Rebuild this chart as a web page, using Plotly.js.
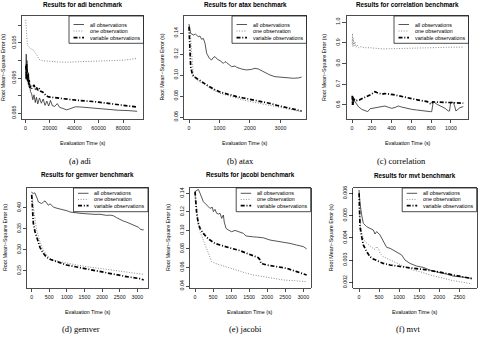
<!DOCTYPE html>
<html>
<head>
<meta charset="utf-8">
<script src="https://cdn.plot.ly/plotly-3.0.1.min.js"></script>
<style>
  html, body { margin: 0; padding: 0; background: #fff; }
  #chart { width: 481px; height: 337px; }
</style>
</head>
<body>
<div id="chart"></div>
<script>
// ---- series / labels ----
const seriesNames = ['all observations', 'one observation', 'variable observations'];
const benchmarks = ['adi', 'atax', 'correlation', 'gemver', 'jacobi', 'mvt'];
const captions = ['(a) adi', '(b) atax', '(c) correlation', '(d) gemver', '(e) jacobi', '(f) mvt'];
const xTitle = 'Evaluation Time (s)';
const yTitle = 'Root Mean\u2212Square Error (s)';

// ---- adi ----
const adiAllX = [300, 600, 900, 1200, 1500, 1800, 2100, 2500, 2900, 3400, 4000, 5000, 6000, 7000, 8000, 9000, 10000, 11500, 13000, 14500, 16000, 17500, 19000, 20500, 22000, 24000, 26000, 28000, 30000, 32000, 33800, 35500, 38000, 41000, 46000, 52000, 60000, 68000, 76000, 84000, 91500];
const adiAllY = [0.0960, 0.1018, 0.0975, 0.1000, 0.0950, 0.0985, 0.0940, 0.0965, 0.0925, 0.0935, 0.0912, 0.0905, 0.0888, 0.0902, 0.0880, 0.0895, 0.0876, 0.0893, 0.0878, 0.0890, 0.0872, 0.0884, 0.0870, 0.0886, 0.0871, 0.0869, 0.0877, 0.0866, 0.0864, 0.0862, 0.0859, 0.0861, 0.0865, 0.0868, 0.0867, 0.0865, 0.0862, 0.0860, 0.0858, 0.0857, 0.0855];
const adiOneX = [200, 800, 1500, 3700, 6400, 9200, 11300, 14600, 20000, 26000, 33000, 40000, 47000, 54000, 61000, 66000, 71000, 76000, 81000, 85000, 88500, 91500];
const adiOneY = [0.1116, 0.1060, 0.1044, 0.1035, 0.1030, 0.1016, 0.1003, 0.0999, 0.0997, 0.0996, 0.0995, 0.0996, 0.0996, 0.0997, 0.0997, 0.0998, 0.0999, 0.1000, 0.1001, 0.1003, 0.1005, 0.1006];
const adiVarX = [300, 600, 900, 1200, 1500, 1800, 2200, 2600, 3000, 3500, 4200, 5000, 6000, 7000, 8000, 9000, 10000, 11000, 12500, 14000, 15500, 17000, 19000, 21000, 24000, 28000, 33000, 38000, 44000, 50000, 55000, 60000, 65000, 70000, 75000, 83000, 91500];
const adiVarY = [0.0985, 0.0945, 0.0990, 0.0955, 0.0975, 0.0940, 0.0960, 0.0930, 0.0945, 0.0922, 0.0928, 0.0920, 0.0925, 0.0930, 0.0918, 0.0924, 0.0915, 0.0921, 0.0912, 0.0910, 0.0905, 0.0899, 0.0896, 0.0895, 0.0893, 0.0891, 0.0889, 0.0888, 0.0886, 0.0885, 0.0883, 0.0881, 0.0879, 0.0877, 0.0875, 0.0872, 0.0867];

// ---- atax ----
const ataxAllX = [0, 55, 142, 208, 306, 361, 415, 470, 525, 579, 667, 743, 798, 853, 929, 1017, 1126, 1181, 1235, 1290, 1400, 1509, 1564, 1728, 1892, 2055, 2165, 2274, 2438, 2657, 2821, 2985, 3204, 3422, 3586, 3694];
const ataxAllY = [0.1486, 0.1397, 0.1381, 0.1390, 0.1365, 0.1371, 0.1340, 0.1349, 0.1302, 0.1207, 0.1159, 0.1143, 0.1167, 0.1175, 0.1150, 0.1137, 0.1111, 0.1127, 0.1118, 0.1105, 0.1079, 0.1086, 0.1073, 0.1057, 0.1048, 0.1054, 0.1064, 0.1057, 0.1032, 0.1000, 0.0984, 0.0978, 0.0972, 0.0969, 0.0972, 0.0980];
const ataxOneX = [0, 33, 66, 109, 142, 200, 252, 350, 470, 580, 689, 850, 1017, 1235, 1500, 1782, 2050, 2329, 2600, 2876, 3150, 3422, 3694];
const ataxOneY = [0.1476, 0.1440, 0.1302, 0.1079, 0.1000, 0.0975, 0.0953, 0.0935, 0.0921, 0.0898, 0.0873, 0.0850, 0.0826, 0.0808, 0.0785, 0.0762, 0.0745, 0.0730, 0.0714, 0.0698, 0.0682, 0.0667, 0.0651];
const ataxVarX = [0, 33, 55, 109, 142, 197, 306, 415, 550, 689, 850, 1017, 1235, 1400, 1564, 1782, 2050, 2329, 2600, 2876, 3150, 3422, 3694];
const ataxVarY = [0.1460, 0.1270, 0.1079, 0.1010, 0.0991, 0.0978, 0.0953, 0.0937, 0.0910, 0.0883, 0.0860, 0.0838, 0.0819, 0.0806, 0.0794, 0.0781, 0.0767, 0.0753, 0.0733, 0.0712, 0.0694, 0.0676, 0.0657];

// ---- correlation ----
const corrAllX = [3, 8, 13, 20, 30, 45, 64, 98, 131, 158, 182, 215, 249, 283, 333, 367, 401, 434, 468, 502, 552, 603, 653, 704, 754, 790, 805, 821, 860, 900, 940, 973, 985, 997, 1023, 1040, 1050, 1091, 1124];
const corrAllY = [0.615, 0.640, 0.600, 0.625, 0.616, 0.605, 0.592, 0.579, 0.571, 0.568, 0.582, 0.585, 0.587, 0.590, 0.595, 0.589, 0.584, 0.588, 0.595, 0.590, 0.584, 0.579, 0.576, 0.572, 0.570, 0.568, 0.568, 0.616, 0.603, 0.595, 0.584, 0.571, 0.571, 0.613, 0.613, 0.590, 0.571, 0.587, 0.592];
const corrOneX = [2, 5, 9, 13, 20, 30, 40, 54, 67, 81, 108, 131, 182, 249, 316, 384, 485, 620, 788, 956, 1050, 1124];
const corrOneY = [0.897, 0.945, 0.881, 0.921, 0.884, 0.905, 0.878, 0.889, 0.876, 0.882, 0.878, 0.876, 0.876, 0.873, 0.870, 0.871, 0.873, 0.875, 0.876, 0.878, 0.878, 0.879];
const corrVarX = [2, 5, 8, 12, 18, 25, 35, 50, 74, 98, 131, 148, 180, 199, 232, 250, 266, 300, 330, 350, 385, 417, 450, 485, 520, 552, 590, 620, 660, 687, 720, 760, 788, 805, 815, 870, 910, 956, 990, 1023, 1060, 1091, 1124];
const corrVarY = [0.645, 0.600, 0.640, 0.610, 0.630, 0.625, 0.620, 0.622, 0.624, 0.630, 0.636, 0.640, 0.648, 0.653, 0.664, 0.660, 0.657, 0.652, 0.655, 0.653, 0.652, 0.650, 0.646, 0.643, 0.638, 0.635, 0.631, 0.629, 0.625, 0.622, 0.620, 0.616, 0.607, 0.605, 0.615, 0.614, 0.613, 0.612, 0.610, 0.611, 0.609, 0.608, 0.609];

// ---- gemver ----
const gemverAllX = [0, 47, 90, 123, 160, 189, 240, 284, 330, 379, 425, 473, 520, 570, 615, 690, 757, 850, 946, 1020, 1088, 1180, 1277, 1400, 1514, 1656, 1798, 1940, 2050, 2130, 2230, 2319, 2410, 2508, 2600, 2697, 2800, 2887, 2960, 3029, 3100, 3180];
const gemverAllY = [0.4371, 0.4347, 0.4360, 0.4306, 0.4220, 0.4145, 0.4120, 0.4106, 0.4140, 0.4169, 0.4120, 0.4065, 0.4100, 0.4060, 0.4024, 0.4000, 0.3985, 0.3975, 0.3961, 0.3930, 0.3904, 0.3890, 0.3880, 0.3872, 0.3865, 0.3848, 0.3848, 0.3850, 0.3835, 0.3824, 0.3830, 0.3816, 0.3770, 0.3720, 0.3690, 0.3663, 0.3620, 0.3583, 0.3560, 0.3543, 0.3487, 0.3479];
const gemverOneX = [0, 47, 95, 142, 236, 331, 426, 520, 615, 805, 994, 1278, 1562, 1940, 2319, 2698, 3000, 3180];
const gemverOneY = [0.4388, 0.4031, 0.3714, 0.3476, 0.3198, 0.3000, 0.2881, 0.2802, 0.2762, 0.2722, 0.2683, 0.2643, 0.2603, 0.2564, 0.2524, 0.2484, 0.2450, 0.2420];
const gemverVarX = [0, 19, 47, 95, 161, 236, 331, 426, 520, 710, 994, 1467, 1940, 2319, 2698, 3076, 3180];
const gemverVarY = [0.4310, 0.3952, 0.3635, 0.3436, 0.3238, 0.3064, 0.2921, 0.2826, 0.2778, 0.2722, 0.2643, 0.2564, 0.2484, 0.2429, 0.2365, 0.2317, 0.2286];

// ---- jacobi ----
const jacobiAllX = [0, 55, 92, 140, 185, 231, 323, 416, 480, 508, 554, 600, 650, 693, 739, 770, 785, 810, 859, 923, 1016, 1108, 1180, 1247, 1339, 1413, 1524, 1620, 1708, 1800, 1893, 2078, 2262, 2447, 2632, 2816, 3001, 3093];
const jacobiAllY = [0.1418, 0.1436, 0.1443, 0.1400, 0.1346, 0.1310, 0.1274, 0.1238, 0.1250, 0.1202, 0.1227, 0.1184, 0.1177, 0.1185, 0.1130, 0.1160, 0.1166, 0.1090, 0.1022, 0.1004, 0.0986, 0.1000, 0.0990, 0.0986, 0.0968, 0.0940, 0.0932, 0.0930, 0.0928, 0.0925, 0.0920, 0.0896, 0.0886, 0.0878, 0.0860, 0.0842, 0.0825, 0.0800];
const jacobiOneX = [0, 28, 46, 92, 139, 231, 323, 397, 462, 554, 693, 877, 1154, 1431, 1616, 1893, 2170, 2447, 2724, 3093];
const jacobiOneY = [0.1400, 0.1292, 0.1220, 0.1058, 0.0986, 0.0896, 0.0806, 0.0717, 0.0663, 0.0645, 0.0627, 0.0609, 0.0573, 0.0537, 0.0519, 0.0501, 0.0483, 0.0465, 0.0458, 0.0447];
const jacobiVarX = [0, 28, 46, 92, 139, 231, 323, 416, 554, 693, 877, 1062, 1247, 1431, 1616, 1754, 1800, 1828, 1893, 1985, 2262, 2539, 2816, 3093];
const jacobiVarY = [0.1418, 0.1292, 0.1184, 0.1076, 0.1022, 0.0968, 0.0925, 0.0896, 0.0860, 0.0842, 0.0824, 0.0806, 0.0781, 0.0753, 0.0724, 0.0706, 0.0681, 0.0645, 0.0637, 0.0627, 0.0609, 0.0591, 0.0555, 0.0519];

// ---- mvt ----
const mvtAllX = [0, 8, 25, 66, 108, 191, 274, 357, 399, 440, 523, 606, 689, 772, 855, 980, 1063, 1146, 1271, 1437, 1603, 1769, 1894, 2018, 2185, 2351, 2517, 2683, 2808];
const mvtAllY = [0.00615, 0.00585, 0.00555, 0.00503, 0.00465, 0.00450, 0.00443, 0.00435, 0.00417, 0.00428, 0.00413, 0.00383, 0.00357, 0.00353, 0.00345, 0.00330, 0.00323, 0.00300, 0.00285, 0.00273, 0.00267, 0.00255, 0.00248, 0.00243, 0.00237, 0.00228, 0.00225, 0.00220, 0.00218];
const mvtOneX = [0, 8, 42, 91, 150, 233, 316, 399, 440, 482, 523, 606, 689, 855, 1105, 1354, 1520, 1769, 2018, 2185, 2351, 2517, 2808];
const mvtOneY = [0.00607, 0.00525, 0.00450, 0.00405, 0.00383, 0.00368, 0.00357, 0.00348, 0.00360, 0.00353, 0.00330, 0.00315, 0.00308, 0.00293, 0.00273, 0.00255, 0.00248, 0.00233, 0.00222, 0.00213, 0.00207, 0.00203, 0.00193];
const mvtVarX = [3, 8, 25, 66, 108, 191, 274, 357, 482, 606, 772, 938, 1105, 1354, 1603, 1852, 2101, 2351, 2600, 2808];
const mvtVarY = [0.00600, 0.00510, 0.00450, 0.00405, 0.00368, 0.00338, 0.00315, 0.00305, 0.00296, 0.00285, 0.00278, 0.00273, 0.00270, 0.00263, 0.00258, 0.00252, 0.00243, 0.00233, 0.00225, 0.00217];

// ---- tick values and labels ----
const adiXTicks = [0, 20000, 40000, 60000, 80000];
const adiYTicks = [0.085, 0.090, 0.095, 0.100, 0.105, 0.110];
const adiYLabels = ['0.085', '', '0.095', '', '0.105', ''];
const ataxXTicks = [0, 1000, 2000, 3000];
const ataxYTicks = [0.06, 0.08, 0.10, 0.12, 0.14];
const ataxYLabels = ['0.06', '0.08', '0.10', '0.12', '0.14'];
const corrXTicks = [0, 200, 400, 600, 800, 1000];
const corrYTicks = [0.6, 0.7, 0.8, 0.9, 1.0];
const corrYLabels = ['0.6', '0.7', '0.8', '0.9', '1.0'];
const gemverXTicks = [0, 500, 1000, 1500, 2000, 2500, 3000];
const gemverYTicks = [0.25, 0.30, 0.35, 0.40];
const gemverYLabels = ['0.25', '0.30', '0.35', '0.40'];
const jacobiXTicks = [0, 500, 1000, 1500, 2000, 2500, 3000];
const jacobiYTicks = [0.04, 0.06, 0.08, 0.10, 0.12, 0.14];
const jacobiYLabels = ['0.04', '0.06', '0.08', '0.10', '0.12', '0.14'];
const mvtXTicks = [0, 500, 1000, 1500, 2000, 2500];
const mvtYTicks = [0.002, 0.003, 0.004, 0.005, 0.006];
const mvtYLabels = ['0.002', '0.003', '0.004', '0.005', '0.006'];

// ---- assembly ----
const seriesData = [
  [[adiAllX, adiAllY], [adiOneX, adiOneY], [adiVarX, adiVarY]],
  [[ataxAllX, ataxAllY], [ataxOneX, ataxOneY], [ataxVarX, ataxVarY]],
  [[corrAllX, corrAllY], [corrOneX, corrOneY], [corrVarX, corrVarY]],
  [[gemverAllX, gemverAllY], [gemverOneX, gemverOneY], [gemverVarX, gemverVarY]],
  [[jacobiAllX, jacobiAllY], [jacobiOneX, jacobiOneY], [jacobiVarX, jacobiVarY]],
  [[mvtAllX, mvtAllY], [mvtOneX, mvtOneY], [mvtVarX, mvtVarY]]
];
const tickSets = [
  [adiXTicks, adiYTicks, adiYLabels],
  [ataxXTicks, ataxYTicks, ataxYLabels],
  [corrXTicks, corrYTicks, corrYLabels],
  [gemverXTicks, gemverYTicks, gemverYLabels],
  [jacobiXTicks, jacobiYTicks, jacobiYLabels],
  [mvtXTicks, mvtYTicks, mvtYLabels]
];

const W = 481, H = 337;
const SANS = 'Liberation Sans, Arial, sans-serif';
const SERIF = 'Liberation Serif, Times New Roman, serif';

// plot boxes in pixels, with axis ranges
const boxes = [
  { l: 22,    r: 143.5, t: 16,  b: 119, xr: [-2869, 96725], yr: [0.0833, 0.1127] },
  { l: 184,   r: 306.5, t: 16,  b: 119, xr: [-164, 3854],   yr: [0.0581, 0.1562] },
  { l: 346.5, r: 468.5, t: 16,  b: 119, xr: [-56, 1177],    yr: [0.5325, 1.0289] },
  { l: 27,    r: 148,   t: 188, b: 288, xr: [-133, 3303],   yr: [0.2095, 0.4476] },
  { l: 190,   r: 310.7, t: 188, b: 288, xr: [-139, 3205],   yr: [0.03785, 0.14576] },
  { l: 353.3, r: 476.7, t: 188, b: 288, xr: [-142, 2933],   yr: [0.001746, 0.006238] }
];
const captionPos = [[80, 161], [240, 161], [401, 161], [81, 329], [245, 329], [408, 329]];

const lineStyles = [
  { color: '#2b2b2b', width: 0.8, dash: 'solid' },
  { color: '#8a8a8a', width: 1.0, dash: '1px,1.6px' },
  { color: '#000000', width: 1.7, dash: '4px,1.8px,1px,1.8px' }
];

const fx = p => p / W;
const fy = p => 1 - p / H;

const traces = [];
const layout = {
  width: W, height: H, autosize: false,
  margin: { l: 0, r: 0, t: 0, b: 0, pad: 0 },
  paper_bgcolor: '#ffffff', plot_bgcolor: '#ffffff',
  showlegend: false,
  font: { family: SANS, color: '#000' },
  shapes: [], annotations: []
};

function ann(text, x, y, opts) {
  layout.annotations.push(Object.assign({
    text: text, xref: 'paper', yref: 'paper', x: fx(x), y: fy(y),
    xanchor: 'center', yanchor: 'middle', showarrow: false,
    font: { family: SANS, size: 5.3, color: '#000' }
  }, opts || {}));
}

boxes.forEach((bx, i) => {
  const sfx = i === 0 ? '' : String(i + 1);
  const [xt, yt, ytl] = tickSets[i];

  layout['xaxis' + sfx] = {
    domain: [fx(bx.l), fx(bx.r)], range: bx.xr, anchor: 'y' + sfx,
    tickmode: 'array', tickvals: xt, ticktext: xt.map(String),
    ticks: 'outside', ticklen: 3.5, tickwidth: 0.7, tickcolor: '#000',
    showline: true, mirror: true, linecolor: '#000', linewidth: 0.7,
    showgrid: false, zeroline: false, fixedrange: true,
    tickfont: { family: SANS, size: 5.3, color: '#111' }
  };
  layout['yaxis' + sfx] = {
    domain: [fy(bx.b), fy(bx.t)], range: bx.yr, anchor: 'x' + sfx,
    tickmode: 'array', tickvals: yt, ticktext: ytl, tickangle: -90,
    ticks: 'outside', ticklen: 3.5, tickwidth: 0.7, tickcolor: '#000',
    showline: true, mirror: true, linecolor: '#000', linewidth: 0.7,
    showgrid: false, zeroline: false, fixedrange: true,
    tickfont: { family: SANS, size: 5.3, color: '#111' }
  };

  seriesData[i].forEach((s, k) => {
    traces.push({
      type: 'scatter', mode: 'lines', x: s[0], y: s[1], name: seriesNames[k],
      xaxis: 'x' + sfx, yaxis: 'y' + sfx,
      line: lineStyles[k], hoverinfo: 'skip', showlegend: false
    });
  });

  const cx = (bx.l + bx.r) / 2, cy = (bx.t + bx.b) / 2;
  const topRow = i < 3;
  ann('<b>Results for ' + benchmarks[i] + ' benchmark</b>', cx, bx.t - (topRow ? 11.5 : 13),
      { font: { family: SANS, size: 6.3, color: '#000' } });
  ann(xTitle, cx, bx.b + 23.5);
  // y title sits 22px left of the box, kept inside the page edge
  ann(yTitle, Math.max(bx.l - 22, 3.4), cy, { textangle: -90 });
  ann(captions[i], captionPos[i][0], captionPos[i][1],
      { font: { family: SERIF, size: 8.5, color: '#000' } });

  // legend panel in the top-right corner of each plot
  const legW = 74.5, legH = topRow ? 27.3 : 23.7;
  const rows = topRow ? [8.5, 15, 21.7] : [5.3, 11.4, 17.7];
  const lx = bx.r - legW;
  layout.shapes.push({
    type: 'rect', xref: 'paper', yref: 'paper', layer: 'above',
    x0: fx(lx), x1: fx(bx.r), y0: fy(bx.t + legH), y1: fy(bx.t),
    line: { color: '#000', width: 0.7 }, fillcolor: '#ffffff'
  });
  rows.forEach((ry, k) => {
    layout.shapes.push({
      type: 'line', xref: 'paper', yref: 'paper', layer: 'above',
      x0: fx(lx + 4.5), x1: fx(lx + 15), y0: fy(bx.t + ry), y1: fy(bx.t + ry),
      line: lineStyles[k]
    });
    ann(seriesNames[k], lx + 18.5, bx.t + ry, { xanchor: 'left' });
  });
});

Plotly.newPlot('chart', traces, layout, { staticPlot: true, displayModeBar: false });
</script>
</body>
</html>
